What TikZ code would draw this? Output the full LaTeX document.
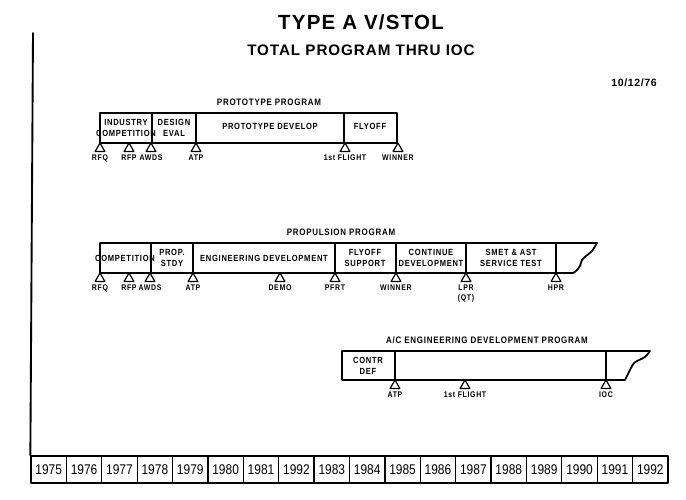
\documentclass[tikz,border=0pt]{standalone}
\usepackage{fontspec}
\setmainfont{Liberation Sans}
\newfontfamily\lblfont[FakeStretch=0.85,LetterSpace=8]{Liberation Sans}
\newfontfamily\yrfont[FakeStretch=0.85]{Liberation Sans}
\newfontfamily\ttlfont[LetterSpace=6]{Liberation Sans}
\usetikzlibrary{calc,positioning,shapes.geometric}

\tikzset{
  bar/.style={line width=1.5pt},
  seg/.style={font=\lblfont\bfseries\fontsize{7.6}{9}\selectfont,align=center,inner sep=0pt},
  tri/.style={draw,fill=white,line width=1pt,regular polygon,regular polygon sides=3,
    minimum size=0.34cm,inner sep=0pt,outer sep=0pt,anchor=north},
  mlbl/.style={font=\lblfont\bfseries\fontsize{7}{8}\selectfont,inner sep=0pt,align=center},
  prog/.style={font=\lblfont\bfseries\fontsize{8}{9.5}\selectfont,inner sep=0pt},
  yrbox/.style={draw,line width=1.1pt,minimum width=1.0617cm,minimum height=0.81cm,
    inner sep=0pt,font=\yrfont\fontsize{12}{14}\selectfont}
}

\begin{document}
\begin{tikzpicture}[x=0.03cm,y=-0.03cm,line join=round,line cap=round]
  \useasboundingbox (0,0) rectangle (686,500);
  % titles
  \node[font=\ttlfont\bfseries\fontsize{17.5}{20}\selectfont] (title) at (361,22) {TYPE A V/STOL};
  \node[font=\ttlfont\bfseries\fontsize{13}{15}\selectfont] (subtitle) at (361,50) {TOTAL PROGRAM THRU IOC};
  \node[font=\ttlfont\bfseries\fontsize{9}{11}\selectfont,anchor=east,inner sep=0pt] (date) at (657,83) {10/12/76};

  % year scale
  \foreach \yr [count=\i from 0] in {1975,1976,1977,1978,1979,1980,1981,1992,1983,
      1984,1985,1986,1987,1988,1989,1990,1991,1992}
    \node[yrbox] (y\i) at ({31+35.39*(\i+0.5)},469.5) {\yr};
  \coordinate (axtop) at (33,33);
  \draw[line width=1.6pt] (axtop) -- (y0.north west);

  % prototype program
  \node[prog] (protoname) at (269,102) {PROTOTYPE PROGRAM};
  \draw[bar] (100,113) rectangle (397,143);
  \foreach \x in {152,196,344} \draw[bar] (\x,113) -- (\x,143);
  \node[seg] (indcomp) at (126,128) {INDUSTRY\\COMPETITION};
  \node[seg] (deseval) at (174,128) {DESIGN\\EVAL};
  \node[seg] (protodev) at (270,126) {PROTOTYPE DEVELOP};
  \node[seg] (flyoff) at (370,126) {FLYOFF};
  \foreach \x/\id/\txt in {100/rfq/RFQ,129/rfp/RFP,151/awds/AWDS,196/atp/ATP,
      345/flt/1st FLIGHT,398/win/WINNER}{
    \node[tri] (p\id) at (\x,143) {};
    \node[mlbl,below=3pt of p\id] (p\id-l) {\txt};
  }

  % propulsion program
  \node[prog] (propname) at (341,232) {PROPULSION PROGRAM};
  \draw[bar] (573,273) -- (100,273) -- (100,243) -- (597,243)
    plot[smooth] coordinates {(597,243) (592,251) (586,256) (582,260) (580,266) (576,271) (573,273)};
  \foreach \x in {151,193,335,396,466,556} \draw[bar] (\x,243) -- (\x,273);
  \node[seg] (comp) at (125,258) {COMPETITION};
  \node[seg] (propstdy) at (172,258) {PROP.\\STDY};
  \node[seg] (engdev) at (264,258) {ENGINEERING DEVELOPMENT};
  \node[seg] (flysup) at (365,258) {FLYOFF\\SUPPORT};
  \node[seg] (contdev) at (431,258) {CONTINUE\\DEVELOPMENT};
  \node[seg] (svctest) at (511,258) {SMET \& AST\\SERVICE TEST};
  \foreach \x/\id/\txt in {100/rfq/RFQ,129/rfp/RFP,150/awds/AWDS,193/atp/ATP,
      280/demo/DEMO,335/pfrt/PFRT,396/win/WINNER,466/lpr/{LPR\\(QT)},556/hpr/HPR}{
    \node[tri] (e\id) at (\x,273) {};
    \node[mlbl,below=3pt of e\id] (e\id-l) {\txt};
  }

  % a/c engineering development program
  \node[prog] (acname) at (487,340) {A/C ENGINEERING DEVELOPMENT PROGRAM};
  \draw[bar] (625,380) -- (342,380) -- (342,351) -- (650,351)
    plot[smooth] coordinates {(650,351) (645,357) (639,360) (634,363) (631,368) (628,374) (625,380)};
  \foreach \x in {395,606} \draw[bar] (\x,351) -- (\x,380);
  \node[seg] (contrdef) at (368,366) {CONTR\\DEF};
  \foreach \x/\id/\txt in {395/atp/ATP,465/flt/1st FLIGHT,606/ioc/IOC}{
    \node[tri] (a\id) at (\x,380) {};
    \node[mlbl,below=3pt of a\id] (a\id-l) {\txt};
  }
\end{tikzpicture}
\end{document}
